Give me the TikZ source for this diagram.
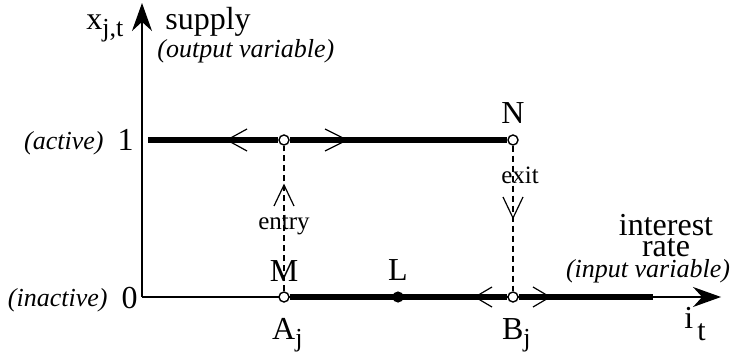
\documentclass[tikz,border=0pt]{standalone}
\usepackage{fontspec}
\setmainfont{Liberation Serif}
\usetikzlibrary{arrows.meta,positioning,calc}
\newcommand{\lowsub}[2][3.5pt]{\raisebox{-#1}{\fontsize{13}{13}\selectfont #2}}

\begin{document}
\begin{tikzpicture}[x=0.5pt, y=-0.5pt, font=\fontsize{16}{18}\selectfont, >={Stealth[length=14pt, width=10pt]}]
\tikzstyle{axis}=[line width=0.7pt]
\tikzstyle{level}=[line width=2.7pt]
\tikzstyle{guide}=[line width=0.6pt, dash pattern=on 3pt off 2pt]
\tikzstyle{chev}=[line width=0.6pt]
\tikzstyle{hollow}=[circle, draw, line width=0.7pt, fill=white, inner sep=0pt, minimum size=5pt]
\tikzstyle{filled}=[circle, fill=black, inner sep=0pt, minimum size=5.6pt]
\tikzstyle{lab}=[inner sep=0pt]
\tikzstyle{note}=[inner sep=0pt, font=\fontsize{13}{15}\selectfont\itshape]
\tikzstyle{small}=[inner sep=0pt, font=\fontsize{12.5}{14}\selectfont]
\useasboundingbox (0,0) rectangle (731,352);

% axes
\coordinate (o) at (142,297);
\coordinate (ytip) at (142,3);
\coordinate (xtip) at (721,297);
\draw[axis, ->] (o) -- (ytip);
\draw[axis, ->] (o) -- (xtip);

% switching points
\node[hollow] (up) at (284,140) {};
\node[hollow] (n) at (513,140) {};
\node[hollow] (m) at (284,297) {};
\node[hollow] (down) at (513,297) {};
\node[filled] (l) at (398,297) {};
\coordinate (start) at (148,140);
\coordinate (stop) at (653,297);

% supply levels
\draw[level] (start) -- (up);
\draw[level] (up) -- (n);
\draw[level] (m) -- (down);
\draw[level] (down) -- (stop);
\draw[guide] (m) -- (up);
\draw[guide] (n) -- (down);

% direction marks
\draw[chev] ($(up)+(-37,-11)$) -- ++(-20,11) -- ++(20,11);
\draw[chev] ($(up)+(41,-11)$) -- ++(22,11) -- ++(-22,11);
\draw[chev] ($(down)+(-21,-10)$) -- ++(-17,10) -- ++(17,10);
\draw[chev] ($(down)+(20,-10)$) -- ++(17,10) -- ++(-17,10);
\draw[chev] ($(up)+(-10,66)$) -- ++(10,-21) -- ++(10,21);
\draw[chev] ($(n)+(-10,57)$) -- ++(10,21) -- ++(10,-21);

% labels
\node[lab, above=4.5pt of m] (mlab) {M};
\node[lab, above=5pt of n] (nlab) {N};
\node[lab, above=5pt of l] (llab) {L};
\node[lab, below=7.5pt of m, xshift=1.7pt] (aj) {A\lowsub{j}};
\node[lab, below=7.5pt of down, xshift=1.7pt] (bj) {B\lowsub{j}};
\node[small, anchor=base] (entry) at (284,229) {entry};
\node[small, anchor=base] (exit) at (520,184) {exit};

\node[lab, anchor=base west] (xlab) at (86,30) {x\lowsub{j,t}};
\node[lab, anchor=base west] (supply) at (165,30) {supply};
\node[note, anchor=base west] (outvar) at (157,58) {(output variable)};
\node[lab, anchor=base east] (one) at (134,151) {1};
\node[note, anchor=base east] (active) at (104,149) {(active)};
\node[lab, anchor=base east] (zero) at (138,308) {0};
\node[note, anchor=base east] (inactive) at (108,306) {(inactive)};
\node[lab, anchor=base] (interest) at (666,235) {interest};
\node[lab, anchor=base] (rate) at (666,256) {rate};
\node[note, anchor=base] (invar) at (648,277) {(input variable)};
\node[lab, anchor=base west] (ilab) at (684,328) {i\hspace{2pt}\lowsub[6pt]{\fontsize{15}{15}\selectfont t}};
\end{tikzpicture}
\end{document}
